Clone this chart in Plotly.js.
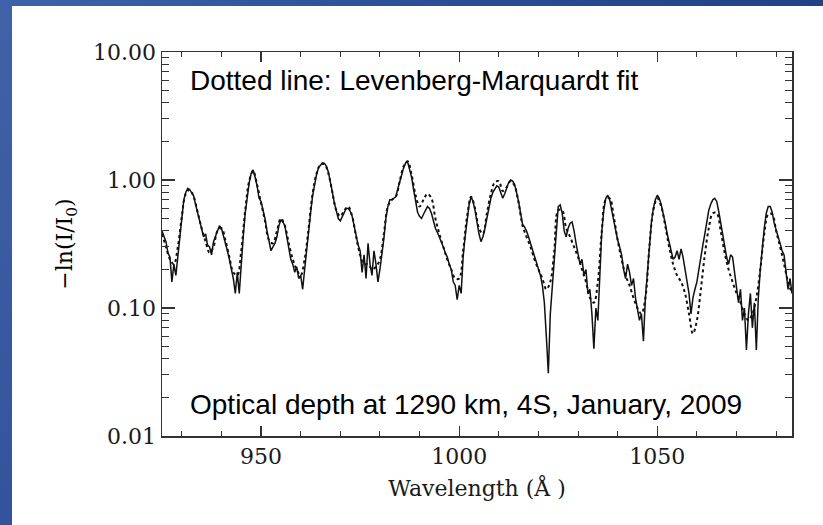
<!DOCTYPE html>
<html>
<head>
<meta charset="utf-8">
<script src="https://cdn.plot.ly/plotly-3.0.1.min.js"></script>
<style>
  html, body { margin: 0; padding: 0; }
  body {
    width: 823px; height: 525px; overflow: hidden; position: relative;
    background: linear-gradient(120deg, #4062a9 0%, #2c4d95 40%, #1a3878 100%);
  }
  #chart { position: absolute; left: 12px; top: 6px; width: 811px; height: 519px; background: #fff; }
</style>
</head>
<body>
<div id="chart"></div>
<script>
// Measured spectrum: sampled every 0.5 Å starting at 925 Å
const obsStart = 925;
const obsStep = 0.5;
const observedDepth = [
  0.40, 0.36, 0.33, 0.27, 0.25, 0.16, 0.22, 0.18, 0.26, 0.38,
  0.55, 0.70, 0.80, 0.86, 0.84, 0.80, 0.75, 0.64, 0.55, 0.46,
  0.40, 0.36, 0.38, 0.31, 0.30, 0.26, 0.33, 0.36, 0.40, 0.44,
  0.42, 0.37, 0.33, 0.28, 0.24, 0.20, 0.17, 0.13, 0.19, 0.13,
  0.24, 0.36, 0.55, 0.75, 0.95, 1.12, 1.20, 1.05, 0.90, 0.72,
  0.68, 0.58, 0.50, 0.40, 0.33, 0.28, 0.30, 0.32, 0.36, 0.44,
  0.49, 0.47, 0.44, 0.36, 0.30, 0.24, 0.22, 0.19, 0.21, 0.17,
  0.18, 0.14, 0.20, 0.27, 0.38, 0.55, 0.75, 0.92, 1.10, 1.25,
  1.32, 1.36, 1.35, 1.28, 1.15, 0.98, 0.80, 0.66, 0.58, 0.50,
  0.48, 0.52, 0.55, 0.60, 0.60, 0.57, 0.52, 0.44, 0.37, 0.31,
  0.28, 0.19, 0.26, 0.17, 0.32, 0.22, 0.18, 0.28, 0.22, 0.16,
  0.20, 0.26, 0.35, 0.50, 0.62, 0.70, 0.70, 0.72, 0.74, 0.85,
  0.95, 1.10, 1.25, 1.36, 1.38, 1.22, 1.05, 0.84, 0.68, 0.56,
  0.52, 0.50, 0.54, 0.58, 0.62, 0.60, 0.55, 0.48, 0.42, 0.39,
  0.36, 0.33, 0.30, 0.27, 0.25, 0.22, 0.20, 0.16, 0.15, 0.116,
  0.15, 0.13, 0.25, 0.36, 0.50, 0.64, 0.74, 0.68, 0.58, 0.45,
  0.38, 0.33, 0.36, 0.42, 0.50, 0.60, 0.72, 0.80, 0.86, 0.90,
  0.88, 0.80, 0.72, 0.78, 0.88, 0.96, 1.00, 0.98, 0.92, 0.80,
  0.68, 0.55, 0.45, 0.43, 0.40, 0.36, 0.32, 0.28, 0.25, 0.22,
  0.20, 0.18, 0.15, 0.11, 0.06, 0.031, 0.09, 0.15, 0.25, 0.42,
  0.62, 0.64, 0.55, 0.40, 0.36, 0.42, 0.46, 0.47, 0.40, 0.32,
  0.27, 0.22, 0.24, 0.18, 0.20, 0.13, 0.14, 0.09, 0.048, 0.10,
  0.08, 0.20, 0.40, 0.58, 0.72, 0.76, 0.70, 0.58, 0.48, 0.40,
  0.34, 0.30, 0.26, 0.20, 0.17, 0.22, 0.19, 0.15, 0.17, 0.12,
  0.10, 0.08, 0.09, 0.055, 0.12, 0.20, 0.32, 0.46, 0.60, 0.70,
  0.76, 0.72, 0.64, 0.55, 0.46, 0.38, 0.32, 0.28, 0.24, 0.25,
  0.28, 0.24, 0.29, 0.25, 0.20, 0.16, 0.13, 0.09, 0.12, 0.14,
  0.16, 0.20, 0.26, 0.31, 0.38, 0.48, 0.58, 0.65, 0.70, 0.72,
  0.68, 0.57, 0.46, 0.37, 0.30, 0.25, 0.22, 0.26, 0.25, 0.19,
  0.16, 0.11, 0.14, 0.08, 0.10, 0.047, 0.09, 0.13, 0.07, 0.11,
  0.047, 0.12, 0.20, 0.30, 0.42, 0.55, 0.62, 0.62, 0.56, 0.46,
  0.40, 0.36, 0.32, 0.28, 0.26, 0.20, 0.14, 0.17, 0.13
];

// Levenberg-Marquardt model fit: sampled every 1 Å starting at 925 Å
const fitStart = 925;
const fitStep = 1;
const fittedDepth = [
  0.38, 0.30, 0.24, 0.22, 0.30, 0.52, 0.78, 0.84, 0.74, 0.56,
  0.42, 0.33, 0.27, 0.30, 0.40, 0.42, 0.34, 0.25, 0.19, 0.18,
  0.28, 0.58, 0.98, 1.18, 0.92, 0.66, 0.48, 0.34, 0.32, 0.40,
  0.50, 0.44, 0.32, 0.24, 0.20, 0.18, 0.24, 0.42, 0.78, 1.12,
  1.32, 1.33, 1.12, 0.80, 0.58, 0.52, 0.58, 0.62, 0.52, 0.36,
  0.26, 0.22, 0.22, 0.20, 0.21, 0.24, 0.38, 0.62, 0.70, 0.74,
  0.98, 1.28, 1.40, 1.10, 0.76, 0.62, 0.70, 0.78, 0.72, 0.50,
  0.38, 0.30, 0.24, 0.20, 0.17, 0.17, 0.28, 0.52, 0.74, 0.60,
  0.42, 0.38, 0.55, 0.78, 0.96, 0.98, 0.82, 0.88, 0.98, 0.90,
  0.66, 0.44, 0.36, 0.30, 0.24, 0.20, 0.17, 0.14, 0.16, 0.28,
  0.58, 0.58, 0.42, 0.36, 0.30, 0.25, 0.20, 0.16, 0.12, 0.11,
  0.16, 0.40, 0.70, 0.72, 0.52, 0.34, 0.24, 0.18, 0.15, 0.12,
  0.10, 0.09, 0.12, 0.30, 0.58, 0.72, 0.62, 0.44, 0.30, 0.22,
  0.18, 0.16, 0.13, 0.09, 0.063, 0.08, 0.14, 0.26, 0.42, 0.55,
  0.55, 0.40, 0.27, 0.20, 0.16, 0.13, 0.11, 0.09, 0.08, 0.09,
  0.12, 0.20, 0.38, 0.54, 0.54, 0.40, 0.30, 0.22, 0.16, 0.13
];

// Axis ticks
const yTickValues = [0.01, 0.1, 1, 10];
const yTickLabels = ['0.01', '0.10', '1.00', '10.00'];
const yMinorValues = [0.02, 0.03, 0.04, 0.05, 0.06, 0.07, 0.08, 0.09,
                      0.2, 0.3, 0.4, 0.5, 0.6, 0.7, 0.8, 0.9,
                      2, 3, 4, 5, 6, 7, 8, 9];
const xTickValues = [950, 1000, 1050];
const xTickLabels = ['950', '1000', '1050'];
const xMinorValues = [930, 940, 960, 970, 980, 990, 1010, 1020, 1030, 1040, 1060, 1070, 1080];

const obsWavelengths = observedDepth.map((_, i) => obsStart + i * obsStep);
const fitWavelengths = fittedDepth.map((_, i) => fitStart + i * fitStep);

const axisColor = '#333333';
const serif = 'DejaVu Serif, serif';
const textColor = '#1a1a1a';

const traces = [
  {
    x: obsWavelengths, y: observedDepth, type: 'scatter', mode: 'lines',
    line: { color: '#111111', width: 1.5 }, name: 'Observed'
  },
  {
    x: fitWavelengths, y: fittedDepth, type: 'scatter', mode: 'lines',
    line: { color: '#111111', width: 2, dash: 'dot', shape: 'spline' }, name: 'Fit'
  },
  // same fit on the top/right frame axes so their ticks get drawn
  {
    x: fitWavelengths, y: fittedDepth, type: 'scatter', mode: 'lines',
    xaxis: 'x2', yaxis: 'y2', line: { width: 0 }, opacity: 0, hoverinfo: 'skip', name: 'frame'
  }
];

const frameTicks = {
  showgrid: false, zeroline: false, showline: true, linecolor: axisColor, linewidth: 1.5,
  ticks: 'inside', tickwidth: 1.2, tickcolor: axisColor, showticklabels: false
};

const layout = {
  width: 811, height: 519,
  margin: { l: 150, r: 31, t: 46, b: 89 },
  paper_bgcolor: '#ffffff', plot_bgcolor: '#ffffff',
  showlegend: false,
  xaxis: Object.assign({}, frameTicks, {
    range: [925, 1084], ticklen: 10,
    tickvals: xTickValues, ticktext: xTickLabels, showticklabels: true,
    tickfont: { family: serif, size: 22, color: textColor },
    minor: { ticks: 'inside', ticklen: 5, tickwidth: 1, tickcolor: axisColor, tickvals: xMinorValues, showgrid: false },
    title: { text: 'Wavelength (Å )', font: { family: serif, size: 22, color: textColor }, standoff: 12 }
  }),
  yaxis: Object.assign({}, frameTicks, {
    type: 'log', range: [-2, 1], ticklen: 13,
    tickvals: yTickValues, ticktext: yTickLabels, showticklabels: true,
    tickfont: { family: serif, size: 22, color: textColor },
    minor: { ticks: 'inside', ticklen: 7, tickwidth: 1, tickcolor: axisColor, tickvals: yMinorValues, showgrid: false },
    title: { text: '−ln(I/I<sub>0</sub>)', font: { family: serif, size: 22, color: '#000' }, standoff: 14 }
  }),
  xaxis2: Object.assign({}, frameTicks, {
    overlaying: 'x', side: 'top', matches: 'x', range: [925, 1084], ticklen: 10,
    tickvals: xTickValues,
    minor: { ticks: 'inside', ticklen: 5, tickwidth: 1, tickcolor: axisColor, tickvals: xMinorValues, showgrid: false }
  }),
  yaxis2: Object.assign({}, frameTicks, {
    overlaying: 'y', side: 'right', type: 'log', range: [-2, 1], ticklen: 13,
    tickvals: yTickValues,
    minor: { ticks: 'inside', ticklen: 7, tickwidth: 1, tickcolor: axisColor, tickvals: yMinorValues, showgrid: false }
  }),
  annotations: [
    {
      xref: 'paper', yref: 'paper', x: 0.041, y: 0.927, xanchor: 'left', yanchor: 'middle',
      text: 'Dotted line: Levenberg-Marquardt fit', showarrow: false,
      font: { family: 'Liberation Sans, Arial, sans-serif', size: 28, color: '#000' }
    },
    {
      xref: 'paper', yref: 'paper', x: 0.041, y: 0.081, xanchor: 'left', yanchor: 'middle',
      text: 'Optical depth at 1290 km, 4S, January, 2009', showarrow: false,
      font: { family: 'Liberation Sans, Arial, sans-serif', size: 28, color: '#000' }
    }
  ]
};

Plotly.newPlot('chart', traces, layout, { displayModeBar: false, staticPlot: true });
</script>
</body>
</html>
